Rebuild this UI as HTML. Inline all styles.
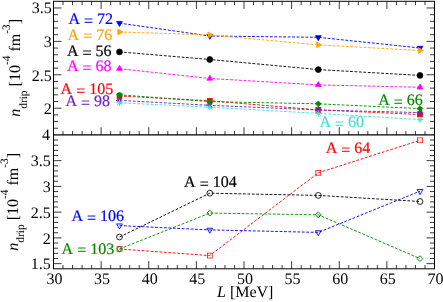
<!DOCTYPE html>
<html><head><meta charset="utf-8"><title>n_drip vs L</title>
<style>
html,body{margin:0;padding:0;background:#fff;}
body{width:443px;height:302px;overflow:hidden;font-family:"Liberation Serif",serif;}
svg{display:block;will-change:transform;}
text{font-family:"Liberation Serif",serif;text-rendering:geometricPrecision;font-kerning:none;}
</style></head><body>
<svg width="443" height="302" viewBox="0 0 443 302">
<rect width="443" height="302" fill="#ffffff"/>
<g opacity="0.999">

<polyline points="119.50,23.15 209.80,36.00 318.30,37.30 420.00,48.00" fill="none" stroke="#0000ff" stroke-width="0.92" stroke-dasharray="2.8 1.65"/>
<polygon points="119.50,26.50 122.40,21.48 116.60,21.48" fill="#0000ff" stroke="#0000ff" stroke-width="0.8" stroke-linejoin="miter"/>
<polygon points="209.80,39.35 212.70,34.33 206.90,34.33" fill="#0000ff" stroke="#0000ff" stroke-width="0.8" stroke-linejoin="miter"/>
<polygon points="318.30,40.65 321.20,35.63 315.40,35.63" fill="#0000ff" stroke="#0000ff" stroke-width="0.8" stroke-linejoin="miter"/>
<polygon points="420.00,51.35 422.90,46.33 417.10,46.33" fill="#0000ff" stroke="#0000ff" stroke-width="0.8" stroke-linejoin="miter"/>
<polyline points="119.50,32.00 209.80,34.90 318.30,44.90 420.00,50.50" fill="none" stroke="#ffa500" stroke-width="0.92" stroke-dasharray="2.8 1.65"/>
<polygon points="122.85,32.00 117.83,29.10 117.83,34.90" fill="#ffa500" stroke="#ffa500" stroke-width="0.8" stroke-linejoin="miter"/>
<polygon points="213.15,34.90 208.13,32.00 208.13,37.80" fill="#ffa500" stroke="#ffa500" stroke-width="0.8" stroke-linejoin="miter"/>
<polygon points="321.65,44.90 316.63,42.00 316.63,47.80" fill="#ffa500" stroke="#ffa500" stroke-width="0.8" stroke-linejoin="miter"/>
<polygon points="423.35,50.50 418.33,47.60 418.33,53.40" fill="#ffa500" stroke="#ffa500" stroke-width="0.8" stroke-linejoin="miter"/>
<polyline points="119.50,51.90 209.80,59.50 318.30,69.60 420.00,75.40" fill="none" stroke="#000000" stroke-width="0.92" stroke-dasharray="2.8 1.65"/>
<circle cx="119.50" cy="51.90" r="2.90" fill="#000000" stroke="#000000" stroke-width="0.8"/>
<circle cx="209.80" cy="59.50" r="2.90" fill="#000000" stroke="#000000" stroke-width="0.8"/>
<circle cx="318.30" cy="69.60" r="2.90" fill="#000000" stroke="#000000" stroke-width="0.8"/>
<circle cx="420.00" cy="75.40" r="2.90" fill="#000000" stroke="#000000" stroke-width="0.8"/>
<polyline points="119.50,68.70 209.80,78.50 318.30,84.90 420.00,87.30" fill="none" stroke="#ff00ff" stroke-width="0.92" stroke-dasharray="2.8 1.65"/>
<polygon points="119.50,65.35 122.40,70.37 116.60,70.37" fill="#ff00ff" stroke="#ff00ff" stroke-width="0.8" stroke-linejoin="miter"/>
<polygon points="209.80,75.15 212.70,80.17 206.90,80.17" fill="#ff00ff" stroke="#ff00ff" stroke-width="0.8" stroke-linejoin="miter"/>
<polygon points="318.30,81.55 321.20,86.57 315.40,86.57" fill="#ff00ff" stroke="#ff00ff" stroke-width="0.8" stroke-linejoin="miter"/>
<polygon points="420.00,83.95 422.90,88.97 417.10,88.97" fill="#ff00ff" stroke="#ff00ff" stroke-width="0.8" stroke-linejoin="miter"/>
<polyline points="119.50,96.00 209.80,100.80 318.30,109.90 420.00,114.50" fill="none" stroke="#ff0000" stroke-width="0.92" stroke-dasharray="2.8 1.65"/>
<rect x="117.08" y="93.58" width="4.84" height="4.84" fill="#ff0000" stroke="#ff0000" stroke-width="0.8"/>
<rect x="207.38" y="98.38" width="4.84" height="4.84" fill="#ff0000" stroke="#ff0000" stroke-width="0.8"/>
<rect x="315.88" y="107.48" width="4.84" height="4.84" fill="#ff0000" stroke="#ff0000" stroke-width="0.8"/>
<rect x="417.58" y="112.08" width="4.84" height="4.84" fill="#ff0000" stroke="#ff0000" stroke-width="0.8"/>
<polyline points="119.50,100.40 209.80,105.30 318.30,110.00 420.00,112.60" fill="none" stroke="#7221bc" stroke-width="0.92" stroke-dasharray="2.8 1.65"/>
<polygon points="116.15,100.40 121.17,97.50 121.17,103.30" fill="#7221bc" stroke="#7221bc" stroke-width="0.8" stroke-linejoin="miter"/>
<polygon points="206.45,105.30 211.47,102.40 211.47,108.20" fill="#7221bc" stroke="#7221bc" stroke-width="0.8" stroke-linejoin="miter"/>
<polygon points="314.95,110.00 319.97,107.10 319.97,112.90" fill="#7221bc" stroke="#7221bc" stroke-width="0.8" stroke-linejoin="miter"/>
<polygon points="416.65,112.60 421.67,109.70 421.67,115.50" fill="#7221bc" stroke="#7221bc" stroke-width="0.8" stroke-linejoin="miter"/>
<polyline points="119.50,102.80 209.80,107.20 318.30,113.40 420.00,119.60" fill="none" stroke="#40e0d0" stroke-width="0.92" stroke-dasharray="2.8 1.65"/>
<path d="M116.30 102.80H122.70M119.50 99.60V106.00M117.20 100.50L121.80 105.10M117.20 105.10L121.80 100.50" stroke="#40e0d0" stroke-width="1.0" fill="none"/>
<path d="M206.60 107.20H213.00M209.80 104.00V110.40M207.50 104.90L212.10 109.50M207.50 109.50L212.10 104.90" stroke="#40e0d0" stroke-width="1.0" fill="none"/>
<path d="M315.10 113.40H321.50M318.30 110.20V116.60M316.00 111.10L320.60 115.70M316.00 115.70L320.60 111.10" stroke="#40e0d0" stroke-width="1.0" fill="none"/>
<path d="M416.80 119.60H423.20M420.00 116.40V122.80M417.70 117.30L422.30 121.90M417.70 121.90L422.30 117.30" stroke="#40e0d0" stroke-width="1.0" fill="none"/>
<polyline points="119.50,94.80 209.80,101.60 318.30,103.80 420.00,108.60" fill="none" stroke="#008b00" stroke-width="0.92" stroke-dasharray="2.8 1.65"/>
<polygon points="119.50,91.90 122.40,94.80 119.50,97.70 116.60,94.80" fill="#008b00" stroke="#008b00" stroke-width="0.8" stroke-linejoin="miter"/>
<polygon points="209.80,98.70 212.70,101.60 209.80,104.50 206.90,101.60" fill="#008b00" stroke="#008b00" stroke-width="0.8" stroke-linejoin="miter"/>
<polygon points="318.30,100.90 321.20,103.80 318.30,106.70 315.40,103.80" fill="#008b00" stroke="#008b00" stroke-width="0.8" stroke-linejoin="miter"/>
<polygon points="420.00,105.70 422.90,108.60 420.00,111.50 417.10,108.60" fill="#008b00" stroke="#008b00" stroke-width="0.8" stroke-linejoin="miter"/>
<polyline points="119.50,237.00 209.80,193.20 318.30,195.40 420.00,201.50" fill="none" stroke="#000000" stroke-width="0.92" stroke-dasharray="2.8 1.65"/>
<circle cx="119.50" cy="237.00" r="2.90" fill="none" stroke="#000000" stroke-width="0.85"/>
<circle cx="209.80" cy="193.20" r="2.90" fill="none" stroke="#000000" stroke-width="0.85"/>
<circle cx="318.30" cy="195.40" r="2.90" fill="none" stroke="#000000" stroke-width="0.85"/>
<circle cx="420.00" cy="201.50" r="2.90" fill="none" stroke="#000000" stroke-width="0.85"/>
<polyline points="119.50,249.00 209.80,255.60 318.30,172.80 420.00,140.30" fill="none" stroke="#ff0000" stroke-width="0.92" stroke-dasharray="2.8 1.65"/>
<rect x="117.08" y="246.58" width="4.84" height="4.84" fill="none" stroke="#ff0000" stroke-width="0.75"/>
<rect x="207.38" y="253.18" width="4.84" height="4.84" fill="none" stroke="#ff0000" stroke-width="0.75"/>
<rect x="315.88" y="170.38" width="4.84" height="4.84" fill="none" stroke="#ff0000" stroke-width="0.75"/>
<rect x="417.58" y="137.88" width="4.84" height="4.84" fill="none" stroke="#ff0000" stroke-width="0.75"/>
<polyline points="119.50,249.00 209.80,213.10 318.30,214.80 420.00,258.60" fill="none" stroke="#008b00" stroke-width="0.92" stroke-dasharray="2.8 1.65"/>
<polygon points="119.50,246.10 122.40,249.00 119.50,251.90 116.60,249.00" fill="none" stroke="#008b00" stroke-width="1.0" stroke-linejoin="miter"/>
<polygon points="209.80,210.20 212.70,213.10 209.80,216.00 206.90,213.10" fill="none" stroke="#008b00" stroke-width="1.0" stroke-linejoin="miter"/>
<polygon points="318.30,211.90 321.20,214.80 318.30,217.70 315.40,214.80" fill="none" stroke="#008b00" stroke-width="1.0" stroke-linejoin="miter"/>
<polygon points="420.00,255.70 422.90,258.60 420.00,261.50 417.10,258.60" fill="none" stroke="#008b00" stroke-width="1.0" stroke-linejoin="miter"/>
<polyline points="119.50,225.60 209.80,229.90 318.30,232.40 420.00,191.20" fill="none" stroke="#0000ff" stroke-width="0.92" stroke-dasharray="2.8 1.65"/>
<polygon points="119.50,228.95 122.40,223.93 116.60,223.93" fill="none" stroke="#0000ff" stroke-width="0.9" stroke-linejoin="miter"/>
<polygon points="209.80,233.25 212.70,228.23 206.90,228.23" fill="none" stroke="#0000ff" stroke-width="0.9" stroke-linejoin="miter"/>
<polygon points="318.30,235.75 321.20,230.73 315.40,230.73" fill="none" stroke="#0000ff" stroke-width="0.9" stroke-linejoin="miter"/>
<polygon points="420.00,194.55 422.90,189.53 417.10,189.53" fill="none" stroke="#0000ff" stroke-width="0.9" stroke-linejoin="miter"/>
<path d="M53.50 268.80L53.50 261.20M53.50 134.90L53.50 127.30M53.50 1.30L53.50 8.90M63.02 268.80L63.02 265.10M63.02 134.90L63.02 131.20M63.02 1.30L63.02 5.00M72.55 268.80L72.55 265.10M72.55 134.90L72.55 131.20M72.55 1.30L72.55 5.00M82.08 268.80L82.08 265.10M82.08 134.90L82.08 131.20M82.08 1.30L82.08 5.00M91.60 268.80L91.60 265.10M91.60 134.90L91.60 131.20M91.60 1.30L91.60 5.00M101.12 268.80L101.12 261.20M101.12 134.90L101.12 127.30M101.12 1.30L101.12 8.90M110.65 268.80L110.65 265.10M110.65 134.90L110.65 131.20M110.65 1.30L110.65 5.00M120.17 268.80L120.17 265.10M120.17 134.90L120.17 131.20M120.17 1.30L120.17 5.00M129.70 268.80L129.70 265.10M129.70 134.90L129.70 131.20M129.70 1.30L129.70 5.00M139.22 268.80L139.22 265.10M139.22 134.90L139.22 131.20M139.22 1.30L139.22 5.00M148.75 268.80L148.75 261.20M148.75 134.90L148.75 127.30M148.75 1.30L148.75 8.90M158.28 268.80L158.28 265.10M158.28 134.90L158.28 131.20M158.28 1.30L158.28 5.00M167.80 268.80L167.80 265.10M167.80 134.90L167.80 131.20M167.80 1.30L167.80 5.00M177.32 268.80L177.32 265.10M177.32 134.90L177.32 131.20M177.32 1.30L177.32 5.00M186.85 268.80L186.85 265.10M186.85 134.90L186.85 131.20M186.85 1.30L186.85 5.00M196.38 268.80L196.38 261.20M196.38 134.90L196.38 127.30M196.38 1.30L196.38 8.90M205.90 268.80L205.90 265.10M205.90 134.90L205.90 131.20M205.90 1.30L205.90 5.00M215.43 268.80L215.43 265.10M215.43 134.90L215.43 131.20M215.43 1.30L215.43 5.00M224.95 268.80L224.95 265.10M224.95 134.90L224.95 131.20M224.95 1.30L224.95 5.00M234.47 268.80L234.47 265.10M234.47 134.90L234.47 131.20M234.47 1.30L234.47 5.00M244.00 268.80L244.00 261.20M244.00 134.90L244.00 127.30M244.00 1.30L244.00 8.90M253.53 268.80L253.53 265.10M253.53 134.90L253.53 131.20M253.53 1.30L253.53 5.00M263.05 268.80L263.05 265.10M263.05 134.90L263.05 131.20M263.05 1.30L263.05 5.00M272.57 268.80L272.57 265.10M272.57 134.90L272.57 131.20M272.57 1.30L272.57 5.00M282.10 268.80L282.10 265.10M282.10 134.90L282.10 131.20M282.10 1.30L282.10 5.00M291.62 268.80L291.62 261.20M291.62 134.90L291.62 127.30M291.62 1.30L291.62 8.90M301.15 268.80L301.15 265.10M301.15 134.90L301.15 131.20M301.15 1.30L301.15 5.00M310.68 268.80L310.68 265.10M310.68 134.90L310.68 131.20M310.68 1.30L310.68 5.00M320.20 268.80L320.20 265.10M320.20 134.90L320.20 131.20M320.20 1.30L320.20 5.00M329.73 268.80L329.73 265.10M329.73 134.90L329.73 131.20M329.73 1.30L329.73 5.00M339.25 268.80L339.25 261.20M339.25 134.90L339.25 127.30M339.25 1.30L339.25 8.90M348.77 268.80L348.77 265.10M348.77 134.90L348.77 131.20M348.77 1.30L348.77 5.00M358.30 268.80L358.30 265.10M358.30 134.90L358.30 131.20M358.30 1.30L358.30 5.00M367.82 268.80L367.82 265.10M367.82 134.90L367.82 131.20M367.82 1.30L367.82 5.00M377.35 268.80L377.35 265.10M377.35 134.90L377.35 131.20M377.35 1.30L377.35 5.00M386.88 268.80L386.88 261.20M386.88 134.90L386.88 127.30M386.88 1.30L386.88 8.90M396.40 268.80L396.40 265.10M396.40 134.90L396.40 131.20M396.40 1.30L396.40 5.00M405.93 268.80L405.93 265.10M405.93 134.90L405.93 131.20M405.93 1.30L405.93 5.00M415.45 268.80L415.45 265.10M415.45 134.90L415.45 131.20M415.45 1.30L415.45 5.00M424.98 268.80L424.98 265.10M424.98 134.90L424.98 131.20M424.98 1.30L424.98 5.00M434.50 268.80L434.50 261.20M434.50 134.90L434.50 127.30M434.50 1.30L434.50 8.90M53.50 128.22L58.00 128.22M434.50 128.22L430.00 128.22M53.50 121.54L58.00 121.54M434.50 121.54L430.00 121.54M53.50 114.86L58.00 114.86M434.50 114.86L430.00 114.86M53.50 108.18L61.50 108.18M434.50 108.18L426.50 108.18M53.50 101.50L58.00 101.50M434.50 101.50L430.00 101.50M53.50 94.82L58.00 94.82M434.50 94.82L430.00 94.82M53.50 88.14L58.00 88.14M434.50 88.14L430.00 88.14M53.50 81.46L58.00 81.46M434.50 81.46L430.00 81.46M53.50 74.78L61.50 74.78M434.50 74.78L426.50 74.78M53.50 68.10L58.00 68.10M434.50 68.10L430.00 68.10M53.50 61.42L58.00 61.42M434.50 61.42L430.00 61.42M53.50 54.74L58.00 54.74M434.50 54.74L430.00 54.74M53.50 48.06L58.00 48.06M434.50 48.06L430.00 48.06M53.50 41.38L61.50 41.38M434.50 41.38L426.50 41.38M53.50 34.70L58.00 34.70M434.50 34.70L430.00 34.70M53.50 28.02L58.00 28.02M434.50 28.02L430.00 28.02M53.50 21.34L58.00 21.34M434.50 21.34L430.00 21.34M53.50 14.66L58.00 14.66M434.50 14.66L430.00 14.66M53.50 7.98L61.50 7.98M434.50 7.98L426.50 7.98M53.50 263.65L61.50 263.65M434.50 263.65L426.50 263.65M53.50 258.50L58.00 258.50M434.50 258.50L430.00 258.50M53.50 253.35L58.00 253.35M434.50 253.35L430.00 253.35M53.50 248.20L58.00 248.20M434.50 248.20L430.00 248.20M53.50 243.05L58.00 243.05M434.50 243.05L430.00 243.05M53.50 237.90L61.50 237.90M434.50 237.90L426.50 237.90M53.50 232.75L58.00 232.75M434.50 232.75L430.00 232.75M53.50 227.60L58.00 227.60M434.50 227.60L430.00 227.60M53.50 222.45L58.00 222.45M434.50 222.45L430.00 222.45M53.50 217.30L58.00 217.30M434.50 217.30L430.00 217.30M53.50 212.15L61.50 212.15M434.50 212.15L426.50 212.15M53.50 207.00L58.00 207.00M434.50 207.00L430.00 207.00M53.50 201.85L58.00 201.85M434.50 201.85L430.00 201.85M53.50 196.70L58.00 196.70M434.50 196.70L430.00 196.70M53.50 191.55L58.00 191.55M434.50 191.55L430.00 191.55M53.50 186.40L61.50 186.40M434.50 186.40L426.50 186.40M53.50 181.25L58.00 181.25M434.50 181.25L430.00 181.25M53.50 176.10L58.00 176.10M434.50 176.10L430.00 176.10M53.50 170.95L58.00 170.95M434.50 170.95L430.00 170.95M53.50 165.80L58.00 165.80M434.50 165.80L430.00 165.80M53.50 160.65L61.50 160.65M434.50 160.65L426.50 160.65M53.50 155.50L58.00 155.50M434.50 155.50L430.00 155.50M53.50 150.35L58.00 150.35M434.50 150.35L430.00 150.35M53.50 145.20L58.00 145.20M434.50 145.20L430.00 145.20M53.50 140.05L58.00 140.05M434.50 140.05L430.00 140.05" stroke="#000" stroke-width="0.78" fill="none"/>
<rect x="53.5" y="1.3" width="381.00" height="267.50" fill="none" stroke="#000" stroke-width="1.0"/>
<path d="M53.5 134.9H434.5" fill="none" stroke="#000" stroke-width="1.2"/>
<text x="51.8" y="13.28" font-size="16" text-anchor="end">3.5</text>
<text x="51.8" y="47.08" font-size="16" text-anchor="end">3</text>
<text x="51.8" y="80.58" font-size="16" text-anchor="end">2.5</text>
<text x="51.8" y="114.08" font-size="16" text-anchor="end">2</text>
<text x="50.0" y="140.30" font-size="16" text-anchor="end">4</text>
<text x="50.8" y="166.45" font-size="16" text-anchor="end">3.5</text>
<text x="50.8" y="192.20" font-size="16" text-anchor="end">3</text>
<text x="50.8" y="217.95" font-size="16" text-anchor="end">2.5</text>
<text x="50.8" y="243.70" font-size="16" text-anchor="end">2</text>
<text x="50.8" y="268.85" font-size="16" text-anchor="end">1.5</text>
<text x="54.40" y="283.6" font-size="16" text-anchor="middle">30</text>
<text x="102.03" y="283.6" font-size="16" text-anchor="middle">35</text>
<text x="149.65" y="283.6" font-size="16" text-anchor="middle">40</text>
<text x="197.28" y="283.6" font-size="16" text-anchor="middle">45</text>
<text x="244.90" y="283.6" font-size="16" text-anchor="middle">50</text>
<text x="292.52" y="283.6" font-size="16" text-anchor="middle">55</text>
<text x="340.15" y="283.6" font-size="16" text-anchor="middle">60</text>
<text x="387.77" y="283.6" font-size="16" text-anchor="middle">65</text>
<text x="435.40" y="283.6" font-size="16" text-anchor="middle">70</text>
<text x="217.0" y="296.8" font-size="16"><tspan font-style="italic">L</tspan> [MeV]</text>
<text x="68.5" y="24.0" font-size="16" fill="#0000ff" stroke="#0000ff" stroke-width="0.2">A <tspan dy="1.6">=</tspan><tspan dy="-1.6"> </tspan>72</text>
<text x="67.6" y="39.8" font-size="16" fill="#ffa500" stroke="#ffa500" stroke-width="0.2">A <tspan dy="1.6">=</tspan><tspan dy="-1.6"> </tspan>76</text>
<text x="67.0" y="56.0" font-size="16" fill="#000" stroke="#000" stroke-width="0.2">A <tspan dy="1.6">=</tspan><tspan dy="-1.6"> </tspan>56</text>
<text x="67.0" y="71.2" font-size="16" fill="#ff00ff" stroke="#ff00ff" stroke-width="0.2">A <tspan dy="1.6">=</tspan><tspan dy="-1.6"> </tspan>68</text>
<text x="60.6" y="94.0" font-size="16" fill="#ff0000" stroke="#ff0000" stroke-width="0.2">A <tspan dy="1.6">=</tspan><tspan dy="-1.6"> </tspan>105</text>
<text x="65.4" y="106.1" font-size="16" fill="#7221bc" stroke="#7221bc" stroke-width="0.2">A <tspan dy="1.6">=</tspan><tspan dy="-1.6"> </tspan>98</text>
<text x="378.2" y="105.1" font-size="16" fill="#008b00" stroke="#008b00" stroke-width="0.2">A <tspan dy="1.6">=</tspan><tspan dy="-1.6"> </tspan>66</text>
<text x="319.4" y="127.3" font-size="16" fill="#40e0d0" stroke="#40e0d0" stroke-width="0.2">A <tspan dy="1.6">=</tspan><tspan dy="-1.6"> </tspan>60</text>
<text x="325.7" y="153.2" font-size="16" fill="#ff0000" stroke="#ff0000" stroke-width="0.2">A <tspan dy="1.6">=</tspan><tspan dy="-1.6"> </tspan>64</text>
<text x="184.1" y="187.4" font-size="16" fill="#000" stroke="#000" stroke-width="0.2">A <tspan dy="1.6">=</tspan><tspan dy="-1.6"> </tspan>104</text>
<text x="71.5" y="221.0" font-size="16" fill="#0000ff" stroke="#0000ff" stroke-width="0.2">A <tspan dy="1.6">=</tspan><tspan dy="-1.6"> </tspan>106</text>
<text x="61.6" y="253.5" font-size="16" fill="#008b00" stroke="#008b00" stroke-width="0.2">A <tspan dy="1.6">=</tspan><tspan dy="-1.6"> </tspan>103</text>
<g transform="translate(20.3,116.8) rotate(-90)"><text x="0" y="0" font-size="16"><tspan font-style="italic">n</tspan><tspan font-size="11.4" dy="6.4">drip</tspan><tspan dy="-6.4"> [10</tspan><tspan font-size="11.4" dy="-10.2">-4</tspan><tspan dy="10.2"> fm</tspan><tspan font-size="11.4" dy="-10.2">-3</tspan><tspan dy="10.2">]</tspan></text></g>
<g transform="translate(18.0,250.7) rotate(-90)"><text x="0" y="0" font-size="16"><tspan font-style="italic">n</tspan><tspan font-size="11.4" dy="6.4">drip</tspan><tspan dy="-6.4"> [10</tspan><tspan font-size="11.4" dy="-10.2">-4</tspan><tspan dy="10.2"> fm</tspan><tspan font-size="11.4" dy="-10.2">-3</tspan><tspan dy="10.2">]</tspan></text></g>
</g></svg></body></html>
